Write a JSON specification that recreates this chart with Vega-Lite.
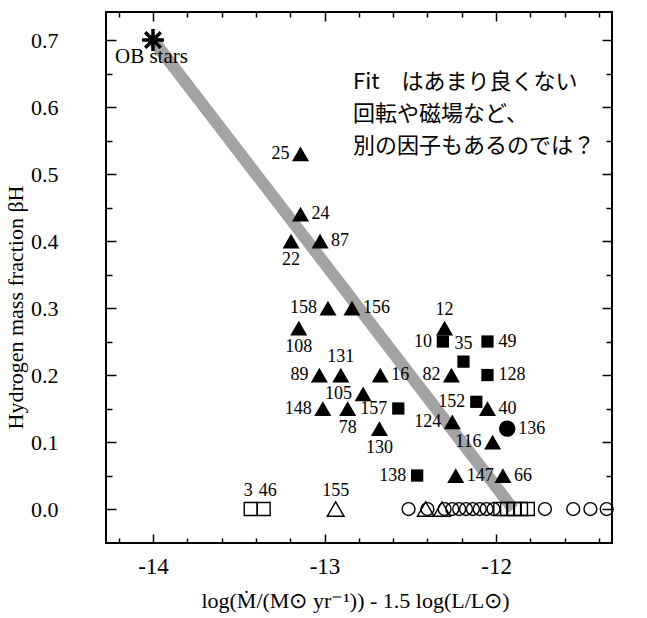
{
  "$schema": "https://vega.github.io/schema/vega-lite/v6.json",
  "width": 506,
  "height": 531,
  "autosize": "none",
  "padding": {"left": 106, "top": 12, "right": 35, "bottom": 75},
  "background": "white",
  "config": {
    "view": {"stroke": "black", "strokeWidth": 2},
    "font": "Liberation Serif"
  },
  "datasets": {
    "stars": [
      {"id": "25", "x": -13.14, "y": 0.53, "sym": "tri", "pos": "L"},
      {"id": "24", "x": -13.14, "y": 0.44, "sym": "tri", "pos": "R"},
      {"id": "22", "x": -13.195, "y": 0.40, "sym": "tri", "pos": "B"},
      {"id": "87", "x": -13.026, "y": 0.40, "sym": "tri", "pos": "R"},
      {"id": "158", "x": -12.98, "y": 0.30, "sym": "tri", "pos": "L"},
      {"id": "156", "x": -12.84, "y": 0.30, "sym": "tri", "pos": "R"},
      {"id": "108", "x": -13.15, "y": 0.27, "sym": "tri", "pos": "B"},
      {"id": "89", "x": -13.03, "y": 0.20, "sym": "tri", "pos": "L"},
      {"id": "131", "x": -12.905, "y": 0.20, "sym": "tri", "pos": "T"},
      {"id": "16", "x": -12.675, "y": 0.20, "sym": "tri", "pos": "R"},
      {"id": "105", "x": -12.775, "y": 0.172, "sym": "tri", "pos": "L"},
      {"id": "148", "x": -13.01, "y": 0.15, "sym": "tri", "pos": "L"},
      {"id": "78", "x": -12.865, "y": 0.15, "sym": "tri", "pos": "B"},
      {"id": "130", "x": -12.68, "y": 0.12, "sym": "tri", "pos": "B"},
      {"id": "12", "x": -12.30, "y": 0.27, "sym": "tri", "pos": "T"},
      {"id": "82", "x": -12.26, "y": 0.20, "sym": "tri", "pos": "L"},
      {"id": "40", "x": -12.05, "y": 0.15, "sym": "tri", "pos": "R"},
      {"id": "124", "x": -12.255, "y": 0.13, "sym": "tri", "pos": "L"},
      {"id": "116", "x": -12.02, "y": 0.10, "sym": "tri", "pos": "L"},
      {"id": "147", "x": -12.235, "y": 0.05, "sym": "tri", "pos": "R"},
      {"id": "66", "x": -11.96, "y": 0.05, "sym": "tri", "pos": "R"},
      {"id": "157", "x": -12.57, "y": 0.15, "sym": "sq", "pos": "L"},
      {"id": "10", "x": -12.31, "y": 0.25, "sym": "sq", "pos": "L"},
      {"id": "35", "x": -12.19, "y": 0.22, "sym": "sq", "pos": "T"},
      {"id": "49", "x": -12.05, "y": 0.25, "sym": "sq", "pos": "R"},
      {"id": "128", "x": -12.05, "y": 0.20, "sym": "sq", "pos": "R"},
      {"id": "152", "x": -12.115, "y": 0.16, "sym": "sq", "pos": "L"},
      {"id": "138", "x": -12.46, "y": 0.05, "sym": "sq", "pos": "L"},
      {"id": "136", "x": -11.935, "y": 0.12, "sym": "circ", "pos": "R"},
      {"id": "3", "x": -13.43, "y": 0.0, "sym": "osq", "pos": "TL"},
      {"id": "46", "x": -13.355, "y": 0.0, "sym": "osq", "pos": "TR"},
      {"id": "155", "x": -12.935, "y": 0.0, "sym": "otri", "pos": "T"},
      {"id": "", "x": -12.51, "y": 0.0, "sym": "ocirc", "pos": "N"},
      {"id": "", "x": -12.40, "y": 0.0, "sym": "ocirc", "pos": "N"},
      {"id": "", "x": -12.30, "y": 0.0, "sym": "ocirc", "pos": "N"},
      {"id": "", "x": -12.41, "y": 0.0, "sym": "otri", "pos": "N"},
      {"id": "", "x": -12.315, "y": 0.0, "sym": "otri", "pos": "N"},
      {"id": "", "x": -12.255, "y": 0.0, "sym": "ocirc", "pos": "N"},
      {"id": "", "x": -12.215, "y": 0.0, "sym": "ocirc", "pos": "N"},
      {"id": "", "x": -12.175, "y": 0.0, "sym": "ocirc", "pos": "N"},
      {"id": "", "x": -12.135, "y": 0.0, "sym": "ocirc", "pos": "N"},
      {"id": "", "x": -12.095, "y": 0.0, "sym": "ocirc", "pos": "N"},
      {"id": "", "x": -12.055, "y": 0.0, "sym": "ocirc", "pos": "N"},
      {"id": "", "x": -12.015, "y": 0.0, "sym": "ocirc", "pos": "N"},
      {"id": "", "x": -11.975, "y": 0.0, "sym": "osq", "pos": "N"},
      {"id": "", "x": -11.935, "y": 0.0, "sym": "osq", "pos": "N"},
      {"id": "", "x": -11.895, "y": 0.0, "sym": "osq", "pos": "N"},
      {"id": "", "x": -11.855, "y": 0.0, "sym": "osq", "pos": "N"},
      {"id": "", "x": -11.815, "y": 0.0, "sym": "osq", "pos": "N"},
      {"id": "", "x": -11.715, "y": 0.0, "sym": "ocirc", "pos": "N"},
      {"id": "", "x": -11.55, "y": 0.0, "sym": "ocirc", "pos": "N"},
      {"id": "", "x": -11.45, "y": 0.0, "sym": "ocirc", "pos": "N"},
      {"id": "", "x": -11.355, "y": 0.0, "sym": "ocirc", "pos": "N"}
    ],
    "ob": [{"x": -14.0, "y": 0.7, "t": "OB stars"}],
    "fit": [{"x": -14.0, "y": 0.7}, {"x": -11.9, "y": 0.0}],
    "notes": [
      {"x": -12.834, "y": 0.638, "t": "Fit　はあまり良くない"},
      {"x": -12.834, "y": 0.590, "t": "回転や磁場など、"},
      {"x": -12.834, "y": 0.542, "t": "別の因子もあるのでは？"}
    ]
  },
  "resolve": {"axis": {"x": "independent", "y": "independent"}},
  "encoding": {
    "x": {"field": "x", "type": "quantitative", "scale": {"domain": [-14.274, -11.324], "nice": false, "zero": false}, "axis": null},
    "y": {"field": "y", "type": "quantitative", "scale": {"domain": [-0.0507, 0.7418], "nice": false, "zero": false}, "axis": null}
  },
  "layer": [
    {
      "data": {"name": "fit"},
      "mark": {"type": "line", "color": "#a3a3a3", "strokeWidth": 12, "strokeCap": "butt"}
    },
    {
      "mark": {"type": "rule", "color": "black", "strokeWidth": 1.5},
      "encoding": {"x": null, "y": {"datum": 0.7, "type": "quantitative", "axis": null}}
    },
    {
      "data": {"name": "stars"},
      "transform": [{"filter": "indexof(['tri','sq','circ'], datum.sym) >= 0"}],
      "mark": {"type": "point", "filled": true, "color": "black", "opacity": 1},
      "encoding": {
        "x": {
          "field": "x", "type": "quantitative",
          "scale": {"domain": [-14.274, -11.324], "nice": false, "zero": false},
          "axis": {
            "orient": "bottom",
            "values": [-14.2, -14, -13.8, -13.6, -13.4, -13.2, -13, -12.8, -12.6, -12.4, -12.2, -12, -11.8, -11.6, -11.4],
            "domain": false, "grid": false,
            "tickColor": "black", "tickWidth": 1.5,
            "tickSize": {"condition": {"test": "abs(datum.value - round(datum.value)) < 0.001", "value": -9}, "value": -5},
            "labelExpr": "abs(datum.value - round(datum.value)) < 0.001 ? '' + round(datum.value) : ''",
            "labelFont": "Liberation Serif", "labelFontSize": 23, "labelColor": "black",
            "labelPadding": 21, "labelFlush": false, "labelOverlap": false,
            "title": "log(Ṁ/(M⊙ yr⁻¹)) - 1.5 log(L/L⊙)",
            "titleFont": "Liberation Serif", "titleFontSize": 22, "titleFontWeight": "normal", "titleColor": "black",
            "titleX": 249, "titleY": 57, "titleAlign": "center", "titleBaseline": "middle"
          }
        },
        "y": {
          "field": "y", "type": "quantitative",
          "scale": {"domain": [-0.0507, 0.7418], "nice": false, "zero": false},
          "axis": {
            "orient": "left",
            "values": [0, 0.05, 0.1, 0.15, 0.2, 0.25, 0.3, 0.35, 0.4, 0.45, 0.5, 0.55, 0.6, 0.65, 0.7],
            "domain": false, "grid": false,
            "tickColor": "black", "tickWidth": 1.5,
            "tickSize": {"condition": {"test": "abs(datum.value * 10 - round(datum.value * 10)) < 0.001", "value": -10}, "value": -6},
            "labelExpr": "abs(datum.value * 10 - round(datum.value * 10)) < 0.001 ? format(datum.value, '.1f') : ''",
            "labelFont": "Liberation Serif", "labelFontSize": 22, "labelColor": "black",
            "labelPadding": 58, "labelFlush": false, "labelOverlap": false,
            "title": "Hydrogen mass fraction βH",
            "titleFont": "Liberation Serif", "titleFontSize": 22, "titleFontWeight": "normal", "titleColor": "black",
            "titleAngle": -90, "titleX": -91, "titleY": 295, "titleAlign": "center", "titleBaseline": "middle"
          }
        },
        "shape": {"field": "sym", "type": "nominal", "legend": null,
          "scale": {"domain": ["tri", "sq", "circ", "otri", "osq", "ocirc"], "range": ["triangle-up", "square", "circle", "triangle-up", "square", "circle"]}},
        "size": {"condition": [{"test": "datum.sym === 'tri'", "value": 290}, {"test": "datum.sym === 'sq'", "value": 150}], "value": 270}
      }
    },
    {
      "data": {"name": "stars"},
      "transform": [{"filter": "indexof(['otri','osq','ocirc'], datum.sym) >= 0"}],
      "mark": {"type": "point", "filled": false, "color": "black", "opacity": 1, "strokeWidth": 1.4},
      "encoding": {
        "x": {
          "field": "x", "type": "quantitative",
          "scale": {"domain": [-14.274, -11.324], "nice": false, "zero": false},
          "axis": {
            "orient": "top",
            "values": [-14.2, -14, -13.8, -13.6, -13.4, -13.2, -13, -12.8, -12.6, -12.4, -12.2, -12, -11.8, -11.6, -11.4],
            "domain": false, "grid": false, "labels": false, "title": null,
            "tickColor": "black", "tickWidth": 1.5,
            "tickSize": {"condition": {"test": "abs(datum.value - round(datum.value)) < 0.001", "value": -9}, "value": -5}
          }
        },
        "y": {
          "field": "y", "type": "quantitative",
          "scale": {"domain": [-0.0507, 0.7418], "nice": false, "zero": false},
          "axis": {
            "orient": "right",
            "values": [0, 0.05, 0.1, 0.15, 0.2, 0.25, 0.3, 0.35, 0.4, 0.45, 0.5, 0.55, 0.6, 0.65, 0.7],
            "domain": false, "grid": false, "labels": false, "title": null,
            "tickColor": "black", "tickWidth": 1.5,
            "tickSize": {"condition": {"test": "abs(datum.value * 10 - round(datum.value * 10)) < 0.001", "value": -10}, "value": -6}
          }
        },
        "shape": {"field": "sym", "type": "nominal", "legend": null,
          "scale": {"domain": ["tri", "sq", "circ", "otri", "osq", "ocirc"], "range": ["triangle-up", "square", "circle", "triangle-up", "square", "circle"]}},
        "size": {"condition": [{"test": "datum.sym === 'otri'", "value": 280}, {"test": "datum.sym === 'osq'", "value": 170}], "value": 165}
      }
    },
    {
      "data": {"name": "ob"},
      "mark": {"type": "point", "shape": "M0,-1L0,1M-1,0L1,0M-0.71,-0.71L0.71,0.71M-0.71,0.71L0.71,-0.71", "size": 480, "stroke": "black", "strokeWidth": 3.5, "filled": false, "opacity": 1}
    },
    {
      "data": {"name": "ob"},
      "mark": {"type": "text", "align": "left", "baseline": "middle", "dx": -38, "dy": 17, "font": "Liberation Serif", "fontSize": 21, "color": "black"},
      "encoding": {"text": {"field": "t"}}
    },
    {
      "data": {"name": "stars"},
      "transform": [{"filter": "datum.pos === 'L'"}],
      "mark": {"type": "text", "align": "right", "baseline": "middle", "dx": -11, "font": "Liberation Serif", "fontSize": 18, "color": "black"},
      "encoding": {"text": {"field": "id"}}
    },
    {
      "data": {"name": "stars"},
      "transform": [{"filter": "datum.pos === 'R'"}],
      "mark": {"type": "text", "align": "left", "baseline": "middle", "dx": 11, "font": "Liberation Serif", "fontSize": 18, "color": "black"},
      "encoding": {"text": {"field": "id"}}
    },
    {
      "data": {"name": "stars"},
      "transform": [{"filter": "datum.pos === 'T'"}],
      "mark": {"type": "text", "align": "center", "baseline": "middle", "dy": -18, "font": "Liberation Serif", "fontSize": 18, "color": "black"},
      "encoding": {"text": {"field": "id"}}
    },
    {
      "data": {"name": "stars"},
      "transform": [{"filter": "datum.pos === 'TL'"}],
      "mark": {"type": "text", "align": "right", "baseline": "middle", "dx": 2, "dy": -18, "font": "Liberation Serif", "fontSize": 18, "color": "black"},
      "encoding": {"text": {"field": "id"}}
    },
    {
      "data": {"name": "stars"},
      "transform": [{"filter": "datum.pos === 'TR'"}],
      "mark": {"type": "text", "align": "left", "baseline": "middle", "dx": -5, "dy": -18, "font": "Liberation Serif", "fontSize": 18, "color": "black"},
      "encoding": {"text": {"field": "id"}}
    },
    {
      "data": {"name": "stars"},
      "transform": [{"filter": "datum.pos === 'B'"}],
      "mark": {"type": "text", "align": "center", "baseline": "middle", "dy": 19, "font": "Liberation Serif", "fontSize": 18, "color": "black"},
      "encoding": {"text": {"field": "id"}}
    },
    {
      "data": {"name": "notes"},
      "mark": {"type": "text", "align": "left", "baseline": "middle", "font": "Noto Sans CJK JP", "fontSize": 22, "color": "black"},
      "encoding": {"text": {"field": "t"}}
    }
  ]
}
